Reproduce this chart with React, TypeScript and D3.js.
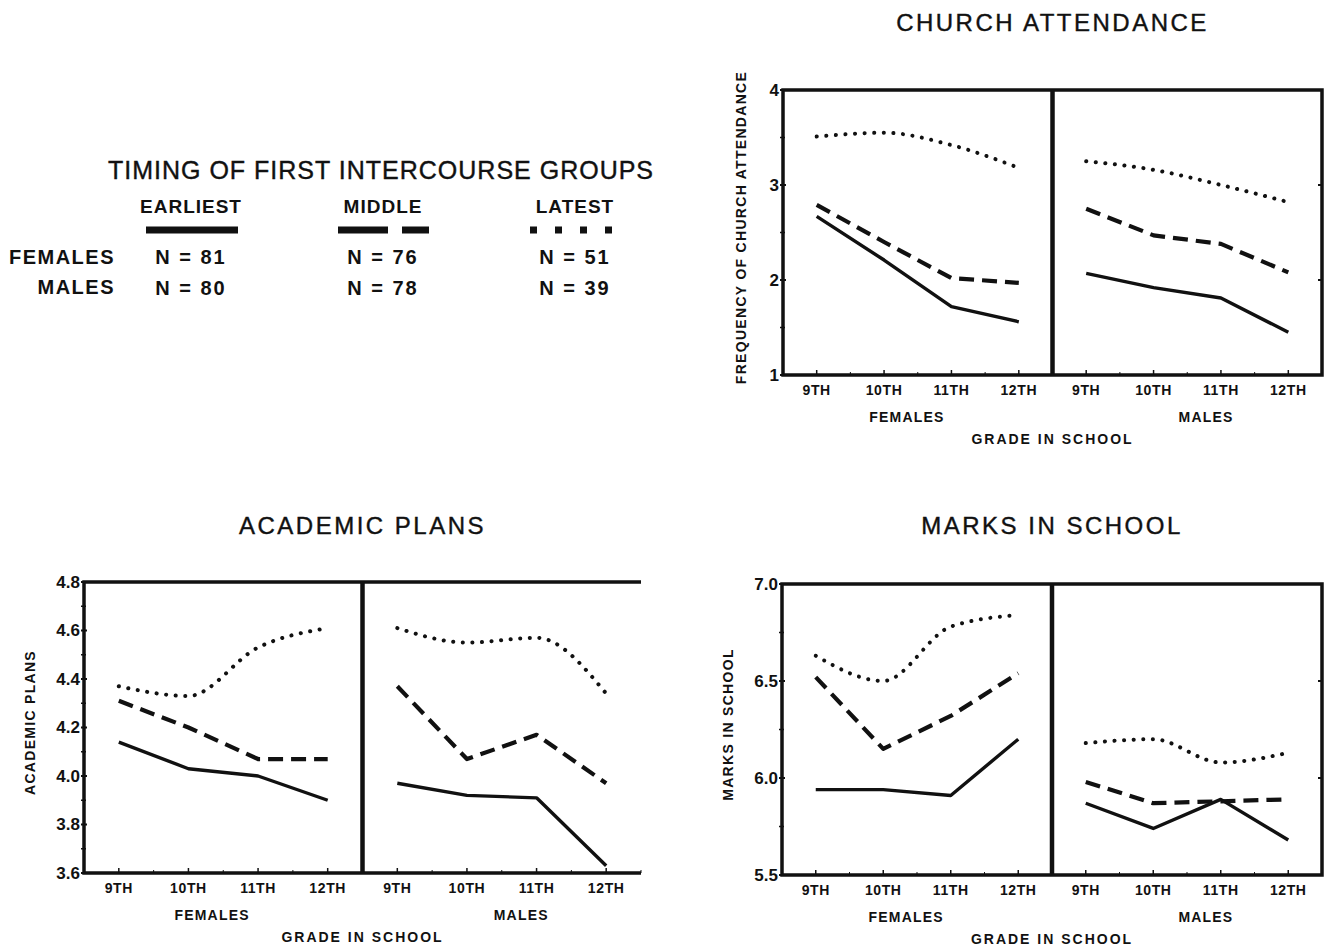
import * as d3 from "d3";

// grades and panels
const grades = ["9TH", "10TH", "11TH", "12TH"];
const sexes = ["FEMALES", "MALES"];
const groups = ["EARLIEST", "MIDDLE", "LATEST"];
const femaleN = [81, 76, 51];
const maleN = [80, 78, 39];

// church attendance (females then males)
const churchEarliest = [2.67, 2.21, 1.72, 1.56, 2.07, 1.92, 1.81, 1.45];
const churchMiddle = [2.79, 2.40, 2.02, 1.97, 2.75, 2.47, 2.38, 2.08];
const churchLatest = [3.51, 3.55, 3.42, 3.18, 3.25, 3.16, 3.0, 2.82];
const churchTicks = [1, 2, 3, 4];

// academic plans
const academicEarliest = [4.14, 4.03, 4.0, 3.9, 3.97, 3.92, 3.91, 3.63];
const academicMiddle = [4.31, 4.2, 4.07, 4.07, 4.37, 4.07, 4.17, 3.97];
const academicLatest = [4.37, 4.33, 4.53, 4.61, 4.61, 4.55, 4.57, 4.34];
const academicTicks = [3.6, 3.8, 4.0, 4.2, 4.4, 4.6, 4.8];

// marks in school
const marksEarliest = [5.94, 5.94, 5.91, 6.2, 5.87, 5.74, 5.89, 5.68];
const marksMiddle = [6.52, 6.15, 6.32, 6.54, 5.98, 5.87, 5.88, 5.89];
const marksLatest = [6.63, 6.5, 6.78, 6.84, 6.18, 6.2, 6.08, 6.13];
const marksTicks = [5.5, 6.0, 6.5, 7.0];

const FONT = "'Liberation Sans', Arial, Helvetica, sans-serif";
const INK = "#111";

const styles = [
  { width: 3.4, dash: null, curve: d3.curveLinear },
  { width: 4.2, dash: "15 8", curve: d3.curveLinear },
  { width: 4, dash: "0.1 9.5", curve: d3.curveMonotoneX },
];

const keys = sexes.flatMap((s) => grades.map((g) => `${s}-${g}`));

function Panel({ box, title, titleY, yLabel, yLabelX, domain, ticks, fmt, series, rightBorder = true }) {
  const x = d3.scalePoint().domain(keys).range([box.left, box.right]).padding(0.5);
  const y = d3.scaleLinear().domain(domain).range([box.bottom, box.top]);
  const step = x.step();
  const divider = (x("FEMALES-12TH") + x("MALES-9TH")) / 2;
  const w = box.right - box.left;
  const minor = ticks.slice(1).map((t, i) => (t + ticks[i]) / 2);
  const cy = (box.top + box.bottom) / 2 - 5;
  const small = { fontSize: 14, fontWeight: "bold", fill: INK, letterSpacing: 0.6 };

  return (
    <g fontFamily={FONT}>
      <text x={divider} y={titleY} textAnchor="middle" dominantBaseline="central" fontSize={24} letterSpacing={2.5} fill={INK} stroke={INK} strokeWidth={0.4}>
        {title}
      </text>
      <text
        transform={`translate(${yLabelX},${cy}) rotate(-90)`}
        textAnchor="middle"
        dominantBaseline="central"
        fontSize={14}
        fontWeight="bold"
        letterSpacing={1.3}
        fill={INK}
      >
        {yLabel}
      </text>
      {series.map((vals, i) => {
        return [0, 1].map((p) => {
          const line = d3
            .line<number>()
            .x((_, j) => x(keys[p * 4 + j]))
            .y((d) => y(d))
            .curve(styles[i].curve);
          return (
            <path
              key={`${i}-${p}`}
              d={line(vals.slice(p * 4, p * 4 + 4)) || ""}
              fill="none"
              stroke={INK}
              strokeWidth={styles[i].width}
              strokeDasharray={styles[i].dash || undefined}
              strokeLinecap={i === 2 ? "round" : "butt"}
              strokeLinejoin="round"
            />
          );
        });
      })}
      {/* frame */}
      <path
        d={
          rightBorder
            ? `M${box.left},${box.top}H${box.right}V${box.bottom}H${box.left}Z`
            : `M${box.right},${box.top}H${box.left}V${box.bottom}H${box.right}`
        }
        fill="none"
        stroke={INK}
        strokeWidth={3.5}
      />
      <line x1={divider} x2={divider} y1={box.top} y2={box.bottom} stroke={INK} strokeWidth={4.5} />
      {/* y ticks */}
      {ticks.map((t) => (
        <g key={t}>
          <line x1={box.left - 3} x2={box.left + 3} y1={y(t)} y2={y(t)} stroke={INK} strokeWidth={2} />
          {rightBorder && <line x1={box.right - 4} x2={box.right} y1={y(t)} y2={y(t)} stroke={INK} strokeWidth={2} />}
          <text x={box.left - 4} y={y(t)} textAnchor="end" dominantBaseline="central" fontSize={17} fontWeight="bold" fill={INK}>
            {fmt(t)}
          </text>
        </g>
      ))}
      {minor.map((t) => (
        <line key={t} x1={box.left - 3} x2={box.left + 2} y1={y(t)} y2={y(t)} stroke={INK} strokeWidth={1.5} />
      ))}
      {/* x ticks */}
      {keys.map((k, j) => (
        <g key={k}>
          <line x1={x(k)} x2={x(k)} y1={box.bottom} y2={box.bottom - 5} stroke={INK} strokeWidth={1.5} />
          <line x1={x(k) + step / 2} x2={x(k) + step / 2} y1={box.bottom} y2={box.bottom - 3} stroke={INK} strokeWidth={1} />
          <text x={x(k)} y={box.bottom + 15} textAnchor="middle" dominantBaseline="central" {...small}>
            {grades[j % 4]}
          </text>
        </g>
      ))}
      <text x={box.left + 0.23 * w} y={box.bottom + 42} textAnchor="middle" dominantBaseline="central" {...small} letterSpacing={1.2}>
        {sexes[0]}
      </text>
      <text x={box.left + 0.785 * w} y={box.bottom + 42} textAnchor="middle" dominantBaseline="central" {...small} letterSpacing={1.2}>
        {sexes[1]}
      </text>
      <text x={divider} y={box.bottom + 64} textAnchor="middle" dominantBaseline="central" {...small} letterSpacing={2}>
        GRADE IN SCHOOL
      </text>
    </g>
  );
}

function Legend() {
  const cols = d3.scalePoint().domain(groups).range([191, 575]);
  return (
    <g fontFamily={FONT} fill={INK}>
      <text x={381} y={170} textAnchor="middle" dominantBaseline="central" fontSize={25} letterSpacing={1} stroke={INK} strokeWidth={0.4}>
        TIMING OF FIRST INTERCOURSE GROUPS
      </text>
      {groups.map((g) => (
        <text key={g} x={cols(g)} y={206} textAnchor="middle" dominantBaseline="central" fontSize={19} fontWeight="bold" letterSpacing={1}>
          {g}
        </text>
      ))}
      {groups.map((g, i) => (
        <line
          key={`s-${g}`}
          x1={cols(g) - 45}
          x2={cols(g) + 47}
          y1={230}
          y2={230}
          stroke={INK}
          strokeWidth={7}
          strokeDasharray={i === 0 ? undefined : i === 1 ? "50 14 27 100" : "7 18"}
        />
      ))}
      <text x={115} y={257} textAnchor="end" dominantBaseline="central" fontSize={20} fontWeight="bold" letterSpacing={1.5}>
        {sexes[0]}
      </text>
      <text x={115} y={287} textAnchor="end" dominantBaseline="central" fontSize={20} fontWeight="bold" letterSpacing={1.5}>
        {sexes[1]}
      </text>
      {groups.map((g, i) => (
        <g key={`n-${g}`}>
          <text x={cols(g)} y={257} textAnchor="middle" dominantBaseline="central" fontSize={20} fontWeight="bold" letterSpacing={2}>
            {`N = ${femaleN[i]}`}
          </text>
          <text x={cols(g)} y={288} textAnchor="middle" dominantBaseline="central" fontSize={20} fontWeight="bold" letterSpacing={2}>
            {`N = ${maleN[i]}`}
          </text>
        </g>
      ))}
    </g>
  );
}

export default function App() {
  return (
    <svg width={1333} height={950} style={{ position: "absolute", left: 0, top: 0, background: "#fff" }}>
      <rect width={1333} height={950} fill="#fff" />
      <Legend />
      <Panel
        box={{ left: 783, top: 90, right: 1322, bottom: 375 }}
        title="CHURCH ATTENDANCE"
        titleY={22}
        yLabel="FREQUENCY OF CHURCH ATTENDANCE"
        yLabelX={741}
        domain={[1, 4]}
        ticks={churchTicks}
        fmt={d3.format("d")}
        series={[churchEarliest, churchMiddle, churchLatest]}
      />
      <Panel
        box={{ left: 84, top: 582, right: 641, bottom: 873 }}
        title="ACADEMIC PLANS"
        titleY={525}
        yLabel="ACADEMIC PLANS"
        yLabelX={30}
        domain={[3.6, 4.8]}
        ticks={academicTicks}
        fmt={d3.format(".1f")}
        series={[academicEarliest, academicMiddle, academicLatest]}
        rightBorder={false}
      />
      <Panel
        box={{ left: 782, top: 584, right: 1322, bottom: 875 }}
        title="MARKS IN SCHOOL"
        titleY={525}
        yLabel="MARKS IN SCHOOL"
        yLabelX={728}
        domain={[5.5, 7.0]}
        ticks={marksTicks}
        fmt={d3.format(".1f")}
        series={[marksEarliest, marksMiddle, marksLatest]}
      />
    </svg>
  );
}
